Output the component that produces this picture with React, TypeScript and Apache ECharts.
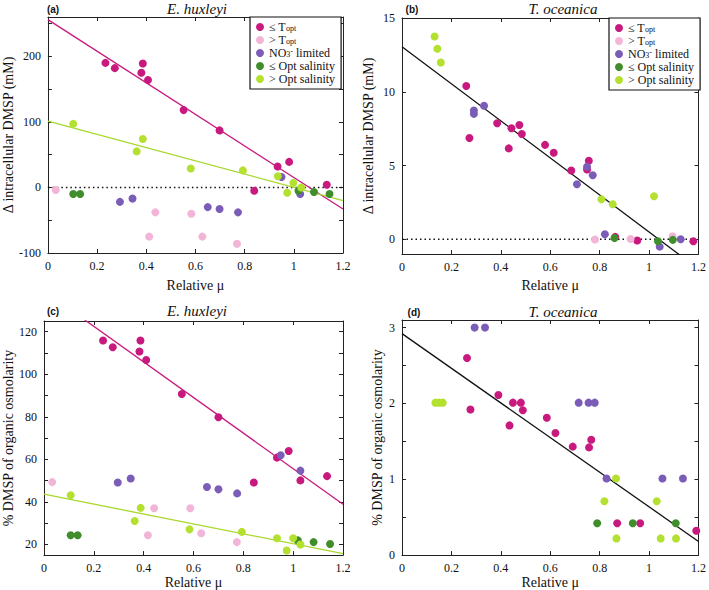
import React, { useEffect, useRef } from 'react';
import * as echarts from 'echarts';

const NAMES = ['≤ Topt', '> Topt', 'NO3- limited', '≤ Opt salinity', '> Opt salinity'];
const COLORS = ['#c8197e', '#f2b4d7', '#7b5cb7', '#3f8e2b', '#b4e030'];

// Panel (a) E. huxleyi, Δ intracellular DMSP (mM)
const aLeTopt = [[0.234, 190], [0.272, 182], [0.386, 189], [0.38, 175], [0.407, 164], [0.552, 118], [0.698, 87], [0.934, 32], [0.981, 39], [0.839, -5], [1.134, 4]];
const aGtTopt = [[0.032, -4], [0.437, -38], [0.583, -40], [0.412, -75], [0.628, -75], [0.769, -86]];
const aNO3 = [[0.293, -22], [0.344, -17], [0.65, -30], [0.698, -33], [0.773, -38], [0.95, 16], [1.026, -10]];
const aLeSal = [[0.103, -10], [0.131, -10], [1.019, -5], [1.082, -7], [1.145, -10]];
const aGtSal = [[0.103, 97], [0.386, 74], [0.361, 55], [0.581, 29], [0.793, 26], [0.935, 17], [0.998, 7], [0.973, -8], [1.03, 0]];
const aFitTopt = [[0, 256], [1.2, -33]];
const aFitSal = [[0, 101], [1.2, -20]];

// Panel (b) T. oceanica, Δ intracellular DMSP (mM)
const bLeTopt = [[0.26, 10.39], [0.273, 6.86], [0.385, 7.87], [0.443, 7.53], [0.475, 7.75], [0.485, 7.14], [0.432, 6.16], [0.579, 6.4], [0.614, 5.86], [0.685, 4.66], [0.756, 5.32], [0.749, 4.73], [0.863, 0.16], [0.952, -0.09], [1.179, -0.14]];
const bGtTopt = [[0.781, -0.02], [0.925, 0.02], [1.095, 0.2]];
const bNO3 = [[0.291, 8.73], [0.291, 8.5], [0.332, 9.05], [0.749, 4.91], [0.772, 4.34], [0.708, 3.73], [0.821, 0.34], [1.043, -0.5], [1.128, 0.0]];
const bLeSal = [[0.86, 0.09], [1.036, -0.14], [1.096, -0.04]];
const bGtSal = [[0.132, 13.75], [0.143, 12.91], [0.157, 11.98], [0.807, 2.71], [0.853, 2.37], [1.02, 2.91]];
const bFit = [[0, 13.05], [1.2, -2.02]];

// Panel (c) E. huxleyi, % DMSP of organic osmolarity
const cLeTopt = [[0.237, 115.8], [0.276, 112.7], [0.387, 115.8], [0.383, 110.7], [0.41, 106.7], [0.553, 90.7], [0.7, 79.8], [0.935, 60.8], [0.982, 63.9], [0.842, 49.1], [1.029, 50.1], [1.136, 52.1]];
const cGtTopt = [[0.033, 49.3], [0.442, 37], [0.587, 37], [0.417, 24.3], [0.631, 25.3], [0.774, 21.1]];
const cNO3 = [[0.296, 49.1], [0.348, 51], [0.654, 47], [0.7, 45.9], [0.775, 44], [0.95, 61.9], [1.029, 54.7]];
const cLeSal = [[0.107, 24.3], [0.135, 24.3], [1.019, 21.9], [1.082, 21.1], [1.148, 20.2]];
const cGtSal = [[0.107, 43.1], [0.388, 37.2], [0.364, 31], [0.584, 27.1], [0.794, 25.9], [0.935, 22.9], [1.0, 22.9], [1.029, 20], [0.974, 17.2]];
const cFitTopt = [[0, 139.2], [1.2, 38.9]];
const cFitSal = [[0, 43.6], [1.2, 15.7]];

// Panel (d) T. oceanica, % DMSP of organic osmolarity
const dLeTopt = [[0.263, 2.6], [0.39, 2.11], [0.449, 2.01], [0.481, 2.01], [0.489, 1.91], [0.277, 1.92], [0.435, 1.71], [0.586, 1.81], [0.621, 1.61], [0.691, 1.43], [0.766, 1.52], [0.757, 1.42], [0.871, 0.42], [0.964, 0.42], [1.191, 0.32]];
const dGtTopt: number[][] = [];
const dNO3 = [[0.294, 3.0], [0.336, 3.0], [0.715, 2.01], [0.755, 2.01], [0.78, 2.01], [0.828, 1.01], [1.054, 1.01], [1.137, 1.01]];
const dLeSal = [[0.79, 0.42], [0.934, 0.42], [1.108, 0.42]];
const dGtSal = [[0.135, 2.01], [0.15, 2.01], [0.165, 2.01], [0.866, 1.01], [0.819, 0.71], [1.031, 0.71], [0.868, 0.22], [1.047, 0.22], [1.109, 0.22]];
const dFit = [[0, 2.92], [1.2, 0.18]];

const zeroLine = [[0, 0], [1.2, 0]];

// Tick values
const xTicks = [0, 0.2, 0.4, 0.6, 0.8, 1, 1.2];
const aYTicks = [-100, -50, 0, 50, 100, 150, 200, 250];
const aYLabels = [-100, 0, 100, 200];
const bYTicks = [0, 5, 10, 15];
const bYLabels = [0, 5, 10, 15];
const cYTicks = [20, 30, 40, 50, 60, 70, 80, 90, 100, 110, 120];
const cYLabels = [20, 40, 60, 80, 100, 120];
const dYTicks = [0, 0.5, 1, 1.5, 2, 2.5, 3];
const dYLabels = [0, 1, 2, 3];

const SERIF = 'Liberation Serif';
const SANS = 'Liberation Sans';
const AX = '#222';

export default function App() {
  const ref = useRef<HTMLDivElement>(null);
  useEffect(() => {
    if (!ref.current) return;
    const chart = echarts.init(ref.current, undefined, { renderer: 'svg' });

    const grids = [
      { left: 44, top: 17, width: 299, height: 236 },
      { left: 402, top: 18, width: 300, height: 236 },
      { left: 44, top: 321, width: 299, height: 236 },
      { left: 402, top: 320, width: 299, height: 236 },
    ];
    const yRanges = [[-100, 260], [-1, 15], [15, 125], [0, 3.1]];
    const yTicks = [aYTicks, bYTicks, cYTicks, dYTicks];
    const yLabels = [aYLabels, bYLabels, cYLabels, dYLabels];
    const yNames = ['Δ intracellular DMSP (mM)', 'Δ intracellular DMSP (mM)', '% DMSP of organic osmolarity', '% DMSP of organic osmolarity'];
    const xNameGaps = [25, 24, 16, 18];
    const yNameGaps = [26, 27, 29, 18];

    const xAxis: any[] = [];
    const yAxis: any[] = [];
    grids.forEach((g, i) => {
      const common = {
        gridIndex: i,
        type: 'value',
        axisLine: { onZero: false, lineStyle: { color: AX, width: 1 } },
        splitLine: { show: false },
      };
      xAxis.push({
        ...common, min: 0, max: 1.2, position: 'bottom',
        axisTick: { inside: true, length: 4, customValues: xTicks, lineStyle: { color: AX } },
        axisLabel: { customValues: xTicks, margin: 7, fontFamily: SERIF, fontSize: 12, color: '#111' },
        name: 'Relative μ', nameLocation: 'middle', nameGap: xNameGaps[i],
        nameTextStyle: { fontFamily: SERIF, fontSize: 14, color: '#111' },
      });
      xAxis.push({
        ...common, min: 0, max: 1.2, position: 'top',
        axisTick: { inside: true, length: 4, customValues: xTicks, lineStyle: { color: AX } },
        axisLabel: { show: false },
      });
      yAxis.push({
        ...common, min: yRanges[i][0], max: yRanges[i][1], position: 'left',
        axisTick: { inside: true, length: 4, customValues: yTicks[i], lineStyle: { color: AX } },
        axisLabel: { customValues: yLabels[i], margin: 7, fontFamily: SERIF, fontSize: 12, color: '#111' },
        name: yNames[i], nameLocation: 'middle', nameGap: yNameGaps[i],
        nameTextStyle: { fontFamily: SERIF, fontSize: 14, color: '#111' },
      });
      yAxis.push({
        ...common, min: yRanges[i][0], max: yRanges[i][1], position: 'right',
        axisTick: { inside: true, length: 4, customValues: yTicks[i], lineStyle: { color: AX } },
        axisLabel: { show: false },
      });
    });

    const panels = [
      { pts: [aLeTopt, aGtTopt, aNO3, aLeSal, aGtSal], fits: [[aFitTopt, COLORS[0]], [aFitSal, '#a9d82c']], zero: true },
      { pts: [bLeTopt, bGtTopt, bNO3, bLeSal, bGtSal], fits: [[bFit, '#111']], zero: true },
      { pts: [cLeTopt, cGtTopt, cNO3, cLeSal, cGtSal], fits: [[cFitTopt, COLORS[0]], [cFitSal, '#a9d82c']], zero: false },
      { pts: [dLeTopt, dGtTopt, dNO3, dLeSal, dGtSal], fits: [[dFit, '#111']], zero: false },
    ];

    const series: any[] = [];
    panels.forEach((p, i) => {
      const ax = { xAxisIndex: 2 * i, yAxisIndex: 2 * i };
      if (p.zero) {
        series.push({
          type: 'line', ...ax, data: zeroLine, symbol: 'none', z: 1, silent: true,
          lineStyle: { color: '#111', width: 1.5, type: [1.5, 3] },
        });
      }
      p.fits.forEach((f: any) => {
        series.push({
          type: 'line', ...ax, data: f[0], symbol: 'none', z: 1, silent: true, clip: true,
          lineStyle: { color: f[1], width: 1.3 },
        });
      });
      p.pts.forEach((d, k) => {
        series.push({
          type: 'scatter', ...ax, name: NAMES[k], data: d, symbol: 'circle', symbolSize: 8, z: 3,
          itemStyle: { color: COLORS[k], opacity: 1 },
        });
      });
    });

    const legendFormatter = (name: string) => {
      if (name === '≤ Topt') return '{a|≤ T}{s|opt}';
      if (name === '> Topt') return '{a|> T}{s|opt}';
      if (name === 'NO3- limited') return '{a|NO}{s|3}{p|-}{a| limited}';
      return '{a|' + name + '}';
    };
    const legendBase = {
      data: NAMES,
      orient: 'vertical',
      icon: 'circle',
      itemWidth: 8,
      itemHeight: 8,
      itemGap: 1,
      selectedMode: false,
      backgroundColor: '#fff',
      borderColor: '#111',
      borderWidth: 1.2,
      borderRadius: 0,
      padding: [4, 6, 4, 6],
      formatter: legendFormatter,
      textStyle: {
        fontFamily: SERIF,
        fontSize: 12,
        color: '#111',
        rich: {
          a: { fontFamily: SERIF, fontSize: 12, lineHeight: 11, color: '#111' },
          s: { fontFamily: SERIF, fontSize: 8, lineHeight: 2, verticalAlign: 'bottom', color: '#111' },
          p: { fontFamily: SERIF, fontSize: 8, lineHeight: 2, verticalAlign: 'top', color: '#111' },
        },
      },
    };

    const titleText = (x: number, y: number, text: string, fontFamily: string, fontSize: number, fontStyle: string, fontWeight: string) => ({
      type: 'text', x, y, z: 10,
      style: { text, fontFamily, fontSize, fontStyle, fontWeight, fill: '#111', align: 'center', verticalAlign: 'middle', textAlign: 'center', textVerticalAlign: 'middle' },
    });

    chart.setOption({
      animation: false,
      textStyle: { fontFamily: SERIF },
      grid: grids,
      xAxis,
      yAxis,
      series,
      legend: [
        { ...legendBase, left: 250, top: 17 },
        { ...legendBase, left: 609, top: 18 },
      ],
      graphic: [
        titleText(53, 9, '(a)', SANS, 10, 'normal', 'bold'),
        titleText(197, 9, 'E. huxleyi', SERIF, 15, 'italic', 'normal'),
        titleText(412, 9, '(b)', SANS, 10, 'normal', 'bold'),
        titleText(563, 9, 'T. oceanica', SERIF, 15, 'italic', 'normal'),
        titleText(53, 311, '(c)', SANS, 10, 'normal', 'bold'),
        titleText(197, 311, 'E. huxleyi', SERIF, 15, 'italic', 'normal'),
        titleText(414, 312, '(d)', SANS, 10, 'normal', 'bold'),
        titleText(563, 312, 'T. oceanica', SERIF, 15, 'italic', 'normal'),
      ],
    });
    return () => chart.dispose();
  }, []);
  return <div ref={ref} style={{ position: 'absolute', left: 0, top: 0, width: 709, height: 590, background: '#fff' }} />;
}
